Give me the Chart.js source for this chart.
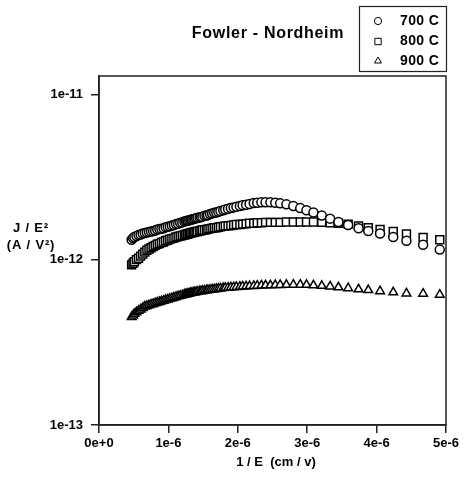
<!DOCTYPE html>
<html>
<head>
<meta charset="utf-8">
<script src="https://cdn.jsdelivr.net/npm/chart.js@4/dist/chart.umd.min.js"></script>
<style>
  html, body { margin: 0; padding: 0; background: #fff; }
  #wrap { width: 468px; height: 479px; }
</style>
</head>
<body>
<div id="wrap"><canvas id="c" width="468" height="479"></canvas></div>
<script>
// ---- data (x in units of 1e-6 cm/V, y in units of 1e-12 A/V^2) ----
const seriesLabels = ['700 C', '800 C', '900 C'];
const invE = [0.47,0.49,0.51,0.54,0.57,0.60,0.63,0.66,0.69,0.72,0.75,0.78,0.81,0.84,0.87,0.90,0.93,0.96,0.99,1.02,1.05,1.08,1.11,1.14,1.17,1.20,1.23,
  1.25,1.27,1.28,1.30,1.32,1.34,1.36,1.38,1.40,1.42,1.45,1.47,1.49,1.52,1.55,1.57,1.60,1.63,1.66,1.69,1.72,1.75,1.79,1.82,1.86,1.90,1.94,1.98,2.03,2.07,2.12,2.17,2.23,2.28,2.34,2.40,2.47,2.54,
  2.61,2.70,2.80,2.90,2.99,3.09,3.21,3.33,3.45,3.59,3.74,3.88,4.05,4.24,4.43,4.67,4.91];
const j700 = [1.32,1.35,1.37,1.39,1.41,1.42,1.44,1.45,1.46,1.47,1.48,1.49,1.50,1.52,1.53,1.54,1.55,1.57,1.58,1.59,1.61,1.62,1.64,1.65,1.67,1.68,1.70,
  1.71,1.72,1.72,1.73,1.74,1.75,1.76,1.77,1.78,1.79,1.80,1.81,1.82,1.84,1.85,1.86,1.89,1.90,1.92,1.93,1.95,1.97,1.99,2.01,2.03,2.05,2.07,2.09,2.11,2.13,2.15,2.17,2.20,2.21,2.22,2.22,2.22,2.21,
  2.19,2.16,2.11,2.05,1.99,1.93,1.85,1.77,1.69,1.62,1.55,1.49,1.44,1.37,1.30,1.23,1.15];
const j800 = [0.93,0.95,0.97,1.00,1.02,1.05,1.08,1.11,1.14,1.16,1.18,1.20,1.22,1.24,1.25,1.27,1.28,1.30,1.31,1.33,1.34,1.35,1.37,1.38,1.39,1.40,1.41,
  1.42,1.43,1.43,1.44,1.45,1.46,1.46,1.47,1.48,1.48,1.49,1.50,1.51,1.51,1.52,1.53,1.54,1.55,1.56,1.56,1.57,1.58,1.59,1.60,1.60,1.61,1.62,1.63,1.63,1.64,1.65,1.66,1.66,1.67,1.67,1.68,1.68,1.68,
  1.68,1.69,1.69,1.69,1.69,1.69,1.68,1.67,1.66,1.64,1.60,1.56,1.52,1.48,1.43,1.36,1.32];
const j900 = [0.45,0.46,0.47,0.48,0.49,0.50,0.51,0.52,0.525,0.53,0.535,0.54,0.545,0.55,0.555,0.56,0.565,0.57,0.575,0.58,0.585,0.59,0.595,0.60,0.605,0.61,0.615,
  0.618,0.62,0.622,0.625,0.628,0.63,0.633,0.635,0.637,0.64,0.643,0.645,0.647,0.65,0.652,0.655,0.657,0.66,0.662,0.665,0.667,0.67,0.673,0.675,0.677,0.68,0.682,0.684,0.686,0.688,0.69,0.692,0.694,0.696,0.698,0.70,0.70,0.702,
  0.703,0.704,0.705,0.705,0.704,0.70,0.695,0.688,0.68,0.672,0.662,0.655,0.645,0.635,0.625,0.622,0.614];
const xTickValues = [0, 1, 2, 3, 4, 5];
const xTickLabels = ['0e+0', '1e-6', '2e-6', '3e-6', '4e-6', '5e-6'];
const yTickValues = [1e-13, 1e-12, 1e-11];
const yTickLabels = ['1e-13', '1e-12', '1e-11'];

const FONT = '"Liberation Sans", Arial, Helvetica, sans-serif';
const styles = [
  { pointStyle: 'circle', radius: 4.5 },
  { pointStyle: 'rect', radius: 5.6 },
  { pointStyle: 'triangle', radius: 5.0 }
];
const seriesY = [j700, j800, j900];

const datasets = seriesY.map((ys, i) => ({
  label: seriesLabels[i],
  data: invE.map((x, k) => ({ x: x * 1e-6, y: ys[k] * 1e-12 })),
  showLine: false,
  pointStyle: styles[i].pointStyle,
  pointRadius: styles[i].radius,
  pointBorderWidth: 1.5,
  pointBorderColor: '#000',
  pointBackgroundColor: '#fff',
  clip: false
}));

const decor = {
  id: 'decor',
  afterDraw(chart) {
    const ctx = chart.ctx;
    const a = chart.chartArea;
    ctx.save();
    // frame
    ctx.strokeStyle = '#222';
    ctx.lineWidth = 1.5;
    ctx.strokeRect(a.left, a.top, a.right - a.left, a.bottom - a.top);
    ctx.fillStyle = '#000';
    ctx.textAlign = 'center';
    ctx.textBaseline = 'middle';
    // title
    ctx.font = 'bold 16px ' + FONT;
    ctx.letterSpacing = '0.7px';
    ctx.fillText('Fowler - Nordheim', 268, 34);
    // y axis title
    ctx.font = 'bold 13px ' + FONT;
    ctx.letterSpacing = '0.8px';
    ctx.fillText('J / E\u00B2', 31, 228);
    ctx.fillText('(A / V\u00B2)', 31, 245);
    // x axis title
    ctx.letterSpacing = '0px';
    ctx.fillText('1 / E  (cm / v)', 276, 462);
    // legend
    ctx.lineWidth = 1.2;
    ctx.strokeStyle = '#222';
    ctx.strokeRect(359.5, 6.5, 87, 65);
    const rows = [21, 41.5, 61];
    ctx.textAlign = 'left';
    ctx.font = 'bold 14px ' + FONT;
    ctx.letterSpacing = '0.4px';
    chart.data.datasets.forEach((ds, i) => {
      ctx.fillStyle = '#fff';
      ctx.strokeStyle = '#000';
      ctx.lineWidth = 1;
      Chart.helpers.drawPoint(ctx, { pointStyle: ds.pointStyle, radius: ds.pointRadius * 0.8, rotation: 0, borderWidth: 1 }, 378, rows[i]);
      ctx.fillStyle = '#000';
      ctx.fillText(ds.label, 400, rows[i]);
    });
    ctx.letterSpacing = '0px';
    ctx.restore();
  }
};

new Chart(document.getElementById('c'), {
  type: 'scatter',
  data: { datasets },
  plugins: [decor],
  options: {
    responsive: false,
    devicePixelRatio: 1,
    animation: false,
    layout: { padding: { top: 76, right: 22, left: 0, bottom: 0 } },
    plugins: { legend: { display: false }, tooltip: { enabled: false } },
    scales: {
      x: {
        type: 'linear',
        min: 0,
        max: 5e-6,
        afterFit(s) { s.height = 54; },
        afterBuildTicks(s) { s.ticks = xTickValues.map(v => ({ value: v * 1e-6 })); },
        ticks: {
          color: '#000',
          font: { family: FONT, size: 13, weight: 'bold' },
          padding: 3,
          maxRotation: 0,
          autoSkip: false,
          callback(value, index) { return xTickLabels[index]; }
        },
        grid: { display: true, drawOnChartArea: false, drawTicks: true, tickLength: 8, color: '#222', lineWidth: 1.5 },
        border: { display: true, color: '#222', width: 1.5 }
      },
      y: {
        type: 'logarithmic',
        min: 1e-13,
        max: 1.29e-11,
        afterFit(s) { s.width = 99; },
        afterBuildTicks(s) { s.ticks = yTickValues.map(v => ({ value: v })); },
        ticks: {
          color: '#000',
          font: { family: FONT, size: 13, weight: 'bold' },
          padding: 8,
          autoSkip: false,
          callback(value, index) { return yTickLabels[index]; }
        },
        grid: { display: true, drawOnChartArea: false, drawTicks: true, tickLength: 8, color: '#222', lineWidth: 1.5 },
        border: { display: true, color: '#222', width: 1.5 }
      }
    }
  }
});
</script>
</body>
</html>
